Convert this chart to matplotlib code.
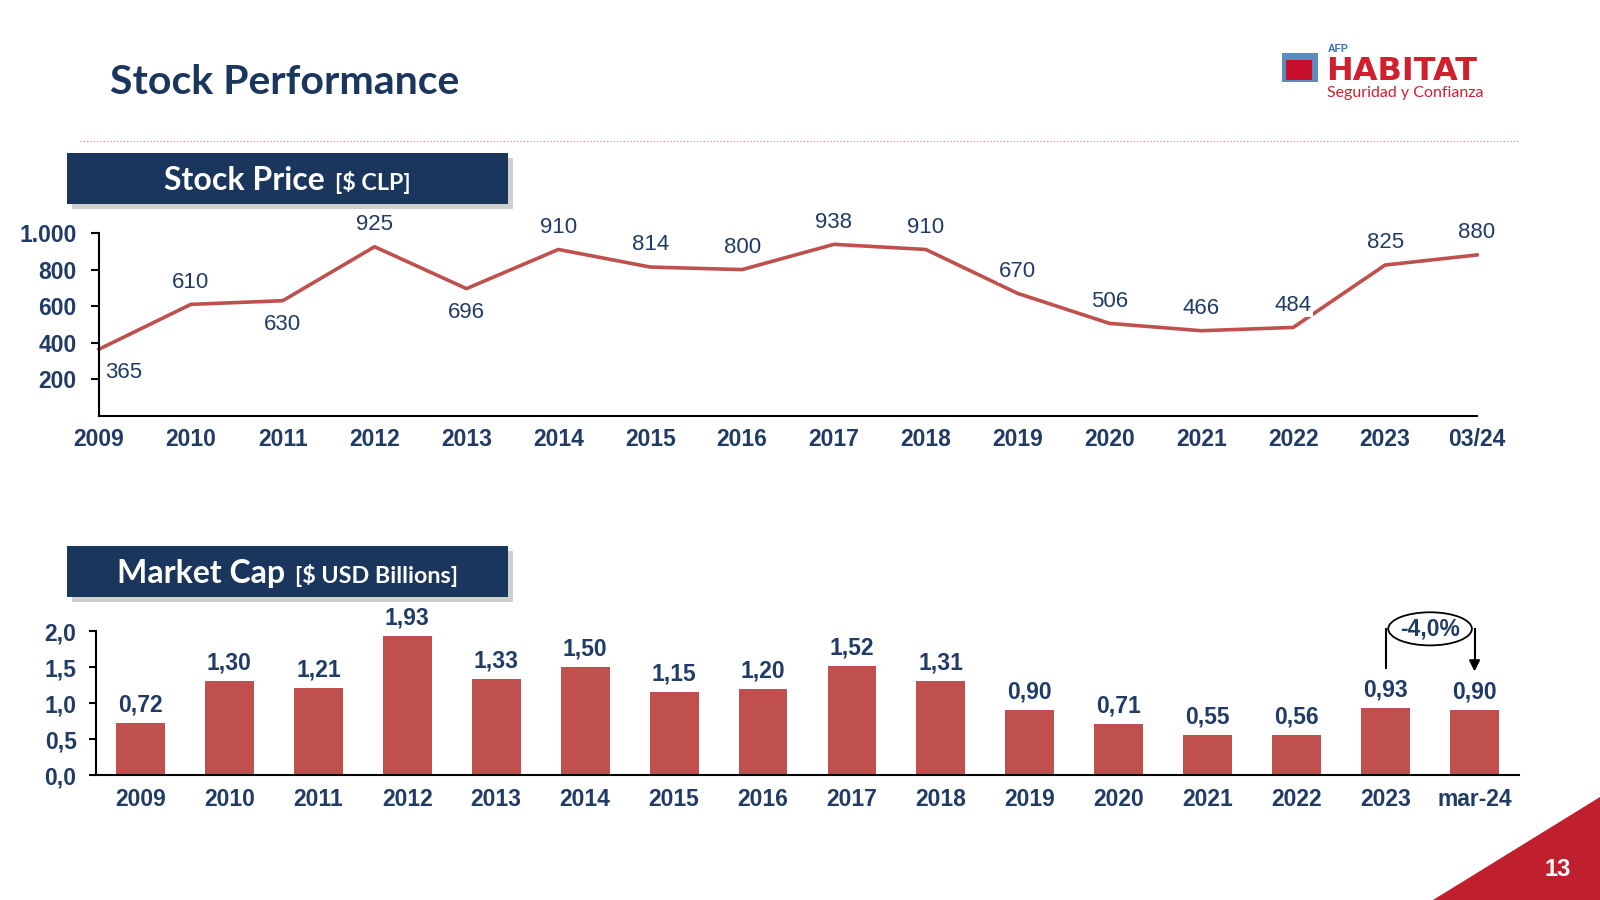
import matplotlib
matplotlib.use("Agg")
import matplotlib.pyplot as plt
from matplotlib.patches import Rectangle, Polygon, Ellipse

# ---- data ----
line_years = ["2009", "2010", "2011", "2012", "2013", "2014", "2015", "2016",
              "2017", "2018", "2019", "2020", "2021", "2022", "2023", "03/24"]
price = [365, 610, 630, 925, 696, 910, 814, 800, 938, 910, 670, 506, 466, 484, 825, 880]
price_lbl_below = [True, False, True, False, True] + [False] * 11

bar_years = ["2009", "2010", "2011", "2012", "2013", "2014", "2015", "2016",
             "2017", "2018", "2019", "2020", "2021", "2022", "2023", "mar-24"]
mcap = [0.72, 1.30, 1.21, 1.93, 1.33, 1.50, 1.15, 1.20, 1.52, 1.31, 0.90, 0.71,
        0.55, 0.56, 0.93, 0.90]
change_txt = "-4,0%"

NAVY = "#1F3B66"
BOX = "#1B365D"
RED = "#C0504D"
CRIMSON = "#C0202E"
TICKFONT = "Liberation Sans"
HEADFONT = "Lato"
TS = 16.5  # tick label size

W, H = 1600, 900
fig = plt.figure(figsize=(16, 9), dpi=100)
renderer = fig.canvas.get_renderer()


def fx(x):
    return x / W


def fy(y):
    return 1 - y / H


# ---- page decorations ----
fig.text(fx(110), fy(83), "Stock Performance", fontsize=29.5, fontweight="bold",
         color=BOX, family=HEADFONT, va="center", ha="left")
fig.add_artist(plt.Line2D([fx(80), fx(1519)], [fy(141), fy(141)], color="#E08080",
                          lw=0.8, ls=(0, (1, 2))))

# logo
fig.add_artist(Rectangle((fx(1282), fy(82)), fx(36), 29 / H, color="#5B8CC0", lw=0))
fig.add_artist(Rectangle((fx(1286), fy(80)), fx(26), 20 / H, color="#C8102E", lw=0))
fig.text(fx(1328), fy(52), "AFP", fontsize=7.5, color="#3A6FB0", family=TICKFONT,
         va="baseline", fontweight="bold")
fig.text(fx(1326), fy(80), "HABITAT", fontsize=23, color="#D0202E", family="DejaVu Sans",
         fontweight="bold", va="baseline", ha="left")
fig.text(fx(1327), fy(97), "Seguridad y Confianza", fontsize=11.5, color="#D0202E",
         family=HEADFONT, va="baseline", ha="left")

# page corner
fig.add_artist(Polygon([(fx(1433), fy(900)), (fx(1600), fy(797)), (fx(1600), fy(900))],
                       closed=True, color=CRIMSON, lw=0))
fig.text(fx(1558), fy(870), "13", fontsize=17, color="white", fontweight="bold",
         family=TICKFONT, ha="center", va="center")


def draw_header(y0, y1, main, sub):
    fig.add_artist(Rectangle((fx(72), fy(y1 + 5)), fx(441), (y1 - y0) / H,
                             color="#A8A8A8", alpha=0.55, lw=0))
    fig.add_artist(Rectangle((fx(67), fy(y1)), fx(441), (y1 - y0) / H, color=BOX, lw=0))
    yc = fy((y0 + y1) / 2 + 2)
    t1 = fig.text(0, yc, main, fontsize=23, fontweight="bold", color="white",
                  family=HEADFONT, ha="left", va="center")
    t2 = fig.text(0, yc - 0.002, sub, fontsize=16.8, fontweight="bold", color="white",
                  family=HEADFONT, ha="left", va="center")
    w1 = t1.get_window_extent(renderer).width
    w2 = t2.get_window_extent(renderer).width
    gap = 10
    start = 287.5 - (w1 + gap + w2) / 2
    t1.set_x(fx(start))
    t2.set_x(fx(start + w1 + gap))


draw_header(153, 204, "Stock Price", "[$ CLP]")
draw_header(546, 597, "Market Cap", "[$ USD Billions]")

# ---- line chart ----
ax1 = fig.add_axes([fx(99), fy(416), fx(1477) - fx(99), fy(233) - fy(416)])
x = list(range(len(price)))
ax1.plot(x, price, color=RED, lw=2.6, zorder=2, clip_on=False)
ax1.set_xlim(0, len(price) - 1)
ax1.set_ylim(0, 1000)
ax1.set_yticks([200, 400, 600, 800, 1000])
ax1.set_yticklabels(["200", "400", "600", "800", "1.000"])
ax1.set_xticks(x)
ax1.set_xticklabels(line_years)
for s in ["top", "right"]:
    ax1.spines[s].set_visible(False)
for s in ["left", "bottom"]:
    ax1.spines[s].set_linewidth(1.5)
    ax1.spines[s].set_color("black")
ax1.tick_params(axis="y", length=6, width=1.5, pad=10, labelsize=TS, labelcolor=NAVY)
ax1.tick_params(axis="x", length=0, pad=9, labelsize=TS, labelcolor=NAVY)
for lab in ax1.get_xticklabels() + ax1.get_yticklabels():
    lab.set_fontweight("bold")
    lab.set_family(TICKFONT)
for i, (v, below) in enumerate(zip(price, price_lbl_below)):
    if i == 0:
        ax1.annotate(str(v), (i, v), xytext=(18, -17), textcoords="offset points",
                     ha="center", va="center", fontsize=16, color=NAVY, family=TICKFONT)
        continue
    dy = -17 if below else 16
    ax1.annotate(str(v), (i, v), xytext=(0, dy), textcoords="offset points",
                 ha="center", va="center", fontsize=16, color=NAVY, family=TICKFONT,
                 bbox=dict(facecolor="white", edgecolor="none", pad=1), zorder=3)

# ---- bar chart ----
ax2 = fig.add_axes([fx(96), fy(775), fx(1519) - fx(96), fy(631) - fy(775)])
xb = list(range(len(mcap)))
ax2.bar(xb, mcap, width=0.55, color=RED, zorder=2)
ax2.set_xlim(-0.5, len(mcap) - 0.5)
ax2.set_ylim(0, 2)
ax2.set_yticks([0, 0.5, 1.0, 1.5, 2.0])
ax2.set_yticklabels(["0,0", "0,5", "1,0", "1,5", "2,0"])
ax2.set_xticks(xb)
ax2.set_xticklabels(bar_years)
for s in ["top", "right"]:
    ax2.spines[s].set_visible(False)
for s in ["left", "bottom"]:
    ax2.spines[s].set_linewidth(1.5)
    ax2.spines[s].set_color("black")
ax2.tick_params(axis="y", length=5, width=1.5, pad=9, labelsize=TS, labelcolor=NAVY)
ax2.tick_params(axis="x", length=0, pad=9, labelsize=TS, labelcolor=NAVY)
for lab in ax2.get_xticklabels() + ax2.get_yticklabels():
    lab.set_fontweight("bold")
    lab.set_family(TICKFONT)
for i, v in enumerate(mcap):
    ax2.annotate(f"{v:.2f}".replace(".", ","), (i, v), xytext=(0, 13),
                 textcoords="offset points", ha="center", va="center", fontsize=TS,
                 fontweight="bold", color=NAVY, family=TICKFONT)

# change bracket between last two bars
i0, i1 = len(mcap) - 2, len(mcap) - 1
ytop = 2.03
ax2.plot([i0, i0], [mcap[i0] + 0.55, ytop], color="black", lw=1.5, clip_on=False)
ax2.plot([i1, i1], [ytop, mcap[i1] + 0.62], color="black", lw=1.5, clip_on=False)
ax2.annotate("", xy=(i1, mcap[i1] + 0.5), xytext=(i1, mcap[i1] + 0.7),
             arrowprops=dict(arrowstyle="-|>", color="black", lw=1.5, mutation_scale=16),
             annotation_clip=False)
ax2.add_patch(Ellipse(((i0 + i1) / 2, ytop), 0.94, 0.46, facecolor="white",
                      edgecolor="black", lw=1.3, clip_on=False, zorder=4))
ax2.text((i0 + i1) / 2, ytop, change_txt, ha="center", va="center", fontsize=16.5,
         fontweight="bold", color=NAVY, family=TICKFONT, zorder=5, clip_on=False)

fig.savefig("out.png", dpi=100, facecolor="white")
